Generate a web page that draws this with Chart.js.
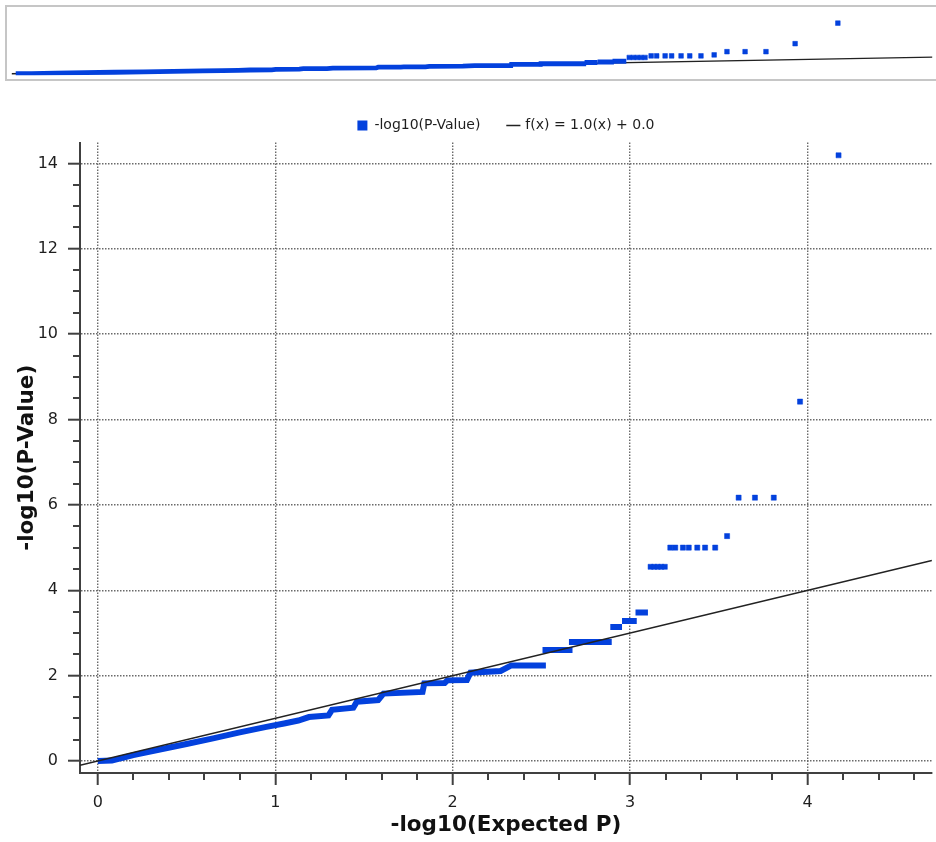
<!DOCTYPE html>
<html>
<head>
<meta charset="utf-8">
<script src="https://cdn.jsdelivr.net/npm/chart.js@4.4.0/dist/chart.umd.min.js"></script>
<style>
  html, body { margin: 0; padding: 0; background: #ffffff; width: 936px; height: 842px; overflow: hidden; position: relative; }
  #ovFrame { position: absolute; left: 5px; top: 5px; width: 935px; height: 72px; border: 2px solid #c6c6c6; border-right: none; }
  #ov { position: absolute; left: 8px; top: 8px; display: block; }
  #main { position: absolute; left: 0; top: 84px; display: block; }
</style>
</head>
<body>
<div id="ovFrame"></div>
<canvas id="ov" width="928" height="71"></canvas>
<canvas id="main" width="936" height="758"></canvas>
<script>
// ---------------- data ----------------
const seriesLabel = '-log10(P-Value)';
const fitLabel = 'f(x) = 1.0(x) + 0.0';
const xTitle = '-log10(Expected P)';
const yTitle = '-log10(P-Value)';

// tick labels
const xTickLabels = [0, 1, 2, 3, 4];
const yTickLabels = [0, 2, 4, 6, 8, 10, 12, 14];

// connected lower part of the observed curve (expected, observed)
const bandX = [0.00, 0.08, 0.20, 0.35, 0.50, 0.65, 0.80, 0.95, 1.05, 1.13, 1.19, 1.30, 1.32, 1.44, 1.46, 1.58, 1.61, 1.83, 1.84, 1.955, 1.97, 2.08, 2.10, 2.27, 2.33, 2.525];
const bandY = [0.00, 0.01, 0.14, 0.27, 0.40, 0.53, 0.67, 0.80, 0.88, 0.95, 1.03, 1.07, 1.20, 1.25, 1.39, 1.43, 1.58, 1.62, 1.82, 1.83, 1.89, 1.90, 2.07, 2.11, 2.24, 2.24];

// tied runs (horizontal bars): observed value, first and last expected value
const runY     = [2.60, 2.79, 3.14, 3.28, 3.48];
const runStart = [2.506, 2.655, 2.888, 2.954, 3.030];
const runEnd   = [2.675, 2.896, 2.954, 3.037, 3.100];

// separate points of the upper tail
const tailX = [3.115, 3.135, 3.155, 3.175, 3.195, 3.226, 3.254, 3.297, 3.330, 3.378, 3.422, 3.479, 3.546, 3.611, 3.703, 3.809, 3.957, 4.174];
const tailY = [4.55, 4.55, 4.55, 4.55, 4.55, 5.00, 5.00, 5.00, 5.00, 5.00, 5.00, 5.00, 5.27, 6.17, 6.17, 6.17, 8.42, 14.19];

// reference line f(x) = x
const fitX = [-0.1, 4.7];
const fitY = [-0.1, 4.7];

// ---------------- styling ----------------
const BLUE = '#0341dd';
const LINE_COLOR = '#222222';
const AXIS_COLOR = '#404040';
const GRID_COLOR = '#6a6a6a';
const TEXT_COLOR = '#1e1e1e';
const FONT = "'DejaVu Sans', Verdana, sans-serif";

Chart.defaults.font.family = FONT;
Chart.defaults.animation = false;

const zip = (xs, ys) => xs.map((x, i) => ({ x: x, y: ys[i] }));

function buildDatasets(bandWidth, pointRadius, fitOnTop, fitWidth) {
  const ds = [];
  ds.push({
    label: seriesLabel, data: zip(bandX, bandY), showLine: true,
    borderColor: BLUE, backgroundColor: BLUE, borderWidth: bandWidth,
    pointRadius: 0, pointHoverRadius: 0, pointStyle: 'rect',
    borderJoinStyle: 'miter', borderCapStyle: 'butt', order: 5
  });
  runY.forEach((y, i) => {
    ds.push({
      label: '_run' + i, data: [{ x: runStart[i], y: y }, { x: runEnd[i], y: y }], showLine: true,
      borderColor: BLUE, backgroundColor: BLUE, borderWidth: bandWidth,
      pointRadius: 0, pointHoverRadius: 0, borderCapStyle: 'butt', order: 4
    });
  });
  ds.push({
    label: '_tail', data: zip(tailX, tailY), showLine: false,
    pointStyle: 'rect', pointRadius: pointRadius, pointHoverRadius: pointRadius,
    backgroundColor: BLUE, borderColor: BLUE, borderWidth: 0.5, order: 3
  });
  ds.push({
    label: fitLabel, data: zip(fitX, fitY), showLine: true,
    borderColor: LINE_COLOR, backgroundColor: LINE_COLOR, borderWidth: fitWidth,
    pointRadius: 0, pointHoverRadius: 0, pointStyle: 'line', order: fitOnTop ? 1 : 9
  });
  return ds;
}

// ---------------- overview panel ----------------
new Chart(document.getElementById('ov'), {
  type: 'scatter',
  data: { datasets: buildDatasets(4.8, 3.3, false, 1.4) },
  options: {
    responsive: false,
    layout: { padding: 0 },
    plugins: { legend: { display: false }, tooltip: { enabled: false } },
    scales: {
      x: { type: 'linear', min: -0.02, max: 4.653, display: false },
      y: { type: 'linear', min: -0.43, max: 17.37, display: false }
    }
  }
});

// ---------------- main chart ----------------
const minorTicks = {
  id: 'minorTicks',
  afterDraw(chart) {
    const { ctx } = chart;
    const xs = chart.scales.x, ys = chart.scales.y;
    ctx.save();
    ctx.strokeStyle = AXIS_COLOR;
    ctx.lineWidth = 2;
    ctx.beginPath();
    const xStep = 0.2;
    for (let i = 1; i * xStep < xs.max; i++) {
      const v = i * xStep;
      if (Math.abs(v - Math.round(v)) < 1e-6) continue;
      const px = Math.round(xs.getPixelForValue(v));
      ctx.moveTo(px, xs.top);
      ctx.lineTo(px, xs.top + 7);
    }
    const yStep = 0.5;
    const yLast = yTickLabels[yTickLabels.length - 1];
    for (let i = 1; i * yStep < yLast; i++) {
      const v = i * yStep;
      if (Math.abs(v / 2 - Math.round(v / 2)) < 1e-6) continue;
      const py = Math.round(ys.getPixelForValue(v));
      ctx.moveTo(ys.right, py);
      ctx.lineTo(ys.right - 7, py);
    }
    ctx.stroke();
    ctx.restore();
  }
};

new Chart(document.getElementById('main'), {
  type: 'scatter',
  data: { datasets: buildDatasets(6, 3.6, true, 1.5) },
  plugins: [minorTicks],
  options: {
    responsive: false,
    layout: { padding: { top: 6.5, left: 0, right: 0, bottom: 0 } },
    plugins: {
      tooltip: { enabled: false },
      legend: {
        position: 'top', fullSize: false,
        labels: {
          usePointStyle: true, boxWidth: 10, boxHeight: 10, padding: 28,
          color: TEXT_COLOR, font: { size: 14 },
          generateLabels(chart) {
            const items = Chart.defaults.plugins.legend.labels.generateLabels(chart);
            return items.filter(it => !it.text.startsWith('_')).map(it => {
              if (it.text === seriesLabel) {
                it.pointStyle = 'rect'; it.lineWidth = 0; it.fillStyle = BLUE; it.strokeStyle = BLUE;
              } else {
                it.pointStyle = 'line'; it.lineWidth = 1.5; it.strokeStyle = LINE_COLOR;
              }
              return it;
            });
          },
          sort: (a, b) => a.datasetIndex - b.datasetIndex
        }
      }
    },
    scales: {
      x: {
        type: 'linear', min: -0.1, max: 4.7,
        afterBuildTicks: (s) => { s.ticks = xTickLabels.map(v => ({ value: v })); },
        afterFit: (s) => { s.height = 69; s.paddingLeft = 0; s.paddingRight = 0; },
        ticks: { color: TEXT_COLOR, font: { size: 16 }, padding: 8, callback: (v) => String(v), maxRotation: 0 },
        grid: { color: GRID_COLOR, lineWidth: 1.4, drawTicks: true, tickLength: 12, tickColor: AXIS_COLOR, tickWidth: 2 },
        border: { display: true, color: AXIS_COLOR, width: 2, dash: [1.5, 1.5] },
        title: { display: true, text: xTitle, color: '#111', font: { size: 21.5, weight: 'bold' }, padding: { top: 0, bottom: 4 } }
      },
      y: {
        type: 'linear', min: -0.28, max: 14.49,
        afterBuildTicks: (s) => { s.ticks = yTickLabels.map(v => ({ value: v })); },
        afterFit: (s) => { s.width = 80; s.paddingTop = 0; s.paddingBottom = 0; },
        ticks: { color: TEXT_COLOR, font: { size: 16 }, padding: 10, callback: (v) => String(v) },
        grid: { color: GRID_COLOR, lineWidth: 1.4, drawTicks: true, tickLength: 12, tickColor: AXIS_COLOR, tickWidth: 2 },
        border: { display: true, color: AXIS_COLOR, width: 2, dash: [1.5, 1.5] },
        title: { display: true, text: yTitle, color: '#111', font: { size: 21.5, weight: 'bold' }, padding: { top: 15, bottom: 0 } }
      }
    }
  }
});
</script>
</body>
</html>
